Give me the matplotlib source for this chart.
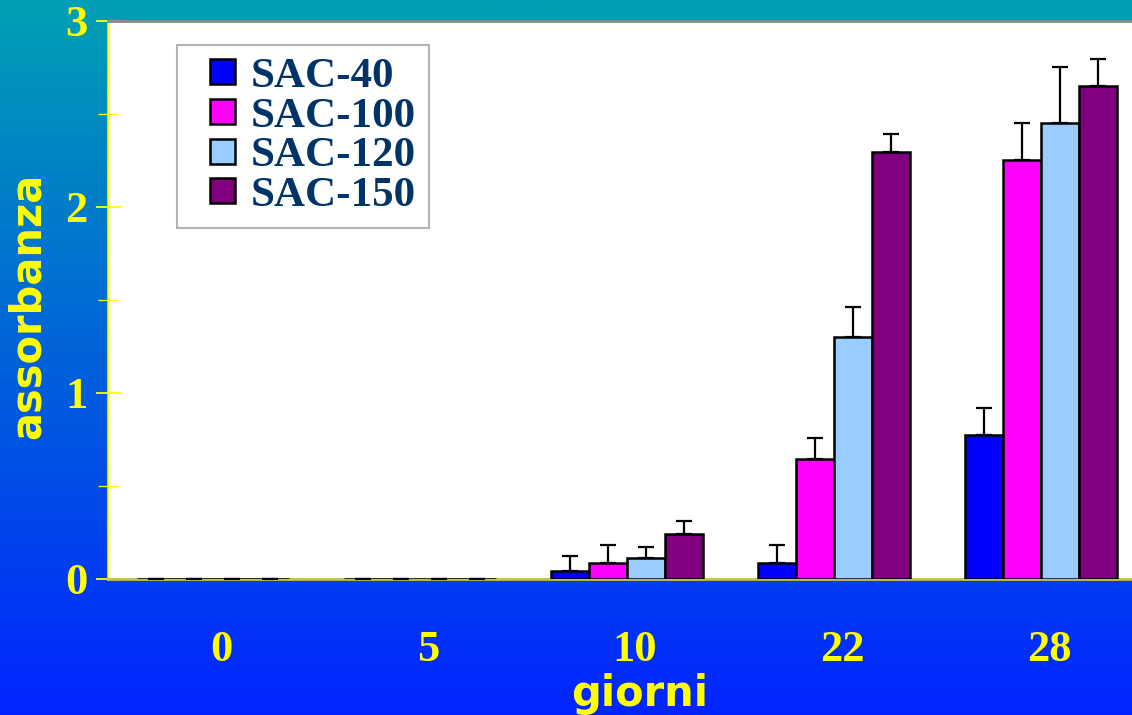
import numpy as np
import matplotlib
matplotlib.use("Agg")
import matplotlib.pyplot as plt
from matplotlib.transforms import ScaledTranslation
from matplotlib.ticker import MultipleLocator
from matplotlib.patches import Rectangle
from matplotlib.container import BarContainer
from matplotlib.legend_handler import HandlerPatch, update_from_first_child

# data (absorbance vs days)
DAYS = ["0", "5", "10", "22", "28"]
SERIES = ["SAC-40", "SAC-100", "SAC-120", "SAC-150"]
SAC40 = [0, 0, 0.045, 0.084, 0.774]
SAC100 = [0, 0, 0.088, 0.643, 2.253]
SAC120 = [0, 0, 0.113, 1.303, 2.453]
SAC150 = [0, 0, 0.242, 2.297, 2.652]
SAC40_ERR = [0, 0, 0.080, 0.099, 0.143]
SAC100_ERR = [0, 0, 0.096, 0.117, 0.200]
SAC120_ERR = [0, 0, 0.057, 0.158, 0.300]
SAC150_ERR = [0, 0, 0.070, 0.095, 0.144]

COLORS = ["#0000FF", "#FF00FF", "#99CCFF", "#800080"]
YELLOW = "#FFFF00"
NAVY = "#003366"

values = [SAC40, SAC100, SAC120, SAC150]
errors = [SAC40_ERR, SAC100_ERR, SAC120_ERR, SAC150_ERR]


def square_handle(legend, orig_handle, xdescent, ydescent, width, height,
                  fontsize):
    # small square pushed to the right end of the handle box
    side = 0.58 * fontsize
    return Rectangle((width - side - xdescent, (height - side) / 2 - ydescent),
                     side, side)


fig = plt.figure(figsize=(11.32, 7.15), dpi=100)

# slide background: teal at the top fading to blue at the bottom
bg = fig.add_axes([0, 0, 1, 1], zorder=-10)
top = np.array([0, 160, 180]) / 255
bot = np.array([0, 36, 255]) / 255
t = np.linspace(0, 1, 256)[:, None]
grad = (1 - t) * top + t * bot
bg.imshow(grad[:, None, :], aspect="auto", extent=(0, 1, 0, 1))
bg.set_axis_off()

ax = fig.add_axes([108 / 1132, 136 / 715, 1024 / 1132, 558 / 715])
ax.set_facecolor("white")

x = np.arange(len(DAYS))
w = 0.183
for i, (name, vals, errs, col) in enumerate(zip(SERIES, values, errors, COLORS)):
    off = (i - 1.5) * w
    ax.bar(x + off, vals, w, color=col, edgecolor="black", linewidth=1.8,
           label=name, zorder=3,
           yerr=[np.zeros(len(errs)), errs],
           error_kw=dict(ecolor="black", elinewidth=1.6, capsize=6,
                         capthick=1.6, zorder=4))

ax.set_xlim(-0.507, 4.44)
ax.set_ylim(0, 3)

# spines
ax.spines["left"].set_color(YELLOW)
ax.spines["left"].set_linewidth(1.8)
ax.spines["bottom"].set_color("#C8BE48")
ax.spines["bottom"].set_linewidth(2)
ax.spines["top"].set_color("#888888")
ax.spines["top"].set_linewidth(2)
ax.spines["right"].set_visible(False)

# y axis ticks
ax.yaxis.set_major_locator(MultipleLocator(1))
ax.yaxis.set_minor_locator(MultipleLocator(0.5))
ax.tick_params(axis="y", which="major", direction="inout", length=18,
               width=1.3, color=YELLOW, pad=6, labelcolor=YELLOW,
               labelsize=32)
ax.tick_params(axis="y", which="minor", direction="inout", length=14,
               width=1.0, color=YELLOW)
ax.set_yticks([0, 1, 2, 3])
ax.set_yticklabels(["0", "1", "2", "3"], family="Liberation Serif",
                   fontweight="bold")

# x axis ticks
ax.set_xticks(x)
ax.set_xticklabels(DAYS, family="Liberation Serif", fontweight="bold")
ax.tick_params(axis="x", length=0, pad=37, labelcolor=YELLOW, labelsize=32)
shift = ScaledTranslation(8 / 100, 0, fig.dpi_scale_trans)
for lab in ax.get_xticklabels():
    lab.set_transform(lab.get_transform() + shift)

ax.set_xlabel("giorni", color=YELLOW, fontsize=30, fontweight="bold",
              family="DejaVu Sans")
ax.xaxis.set_label_coords(0.5195, -0.169)
ax.set_ylabel("assorbanza", color=YELLOW, fontsize=30, fontweight="bold",
              family="DejaVu Sans")
ax.yaxis.set_label_coords(-0.058, 0.489)

leg = ax.legend(loc="upper left", bbox_to_anchor=(0.0674, 0.957),
                borderaxespad=0, fancybox=False, framealpha=1,
                edgecolor="#B4B4B4",
                prop=dict(family="Liberation Serif", weight="bold", size=31),
                labelcolor=NAVY, handlelength=1.05, handleheight=0.58,
                handletextpad=0.36, labelspacing=0.04, borderpad=0.3,
                handler_map={BarContainer: HandlerPatch(
                    patch_func=square_handle,
                    update_func=update_from_first_child)})
leg.get_frame().set_linewidth(1.5)
leg.set_zorder(6)

fig.savefig("out.png", dpi=100)
